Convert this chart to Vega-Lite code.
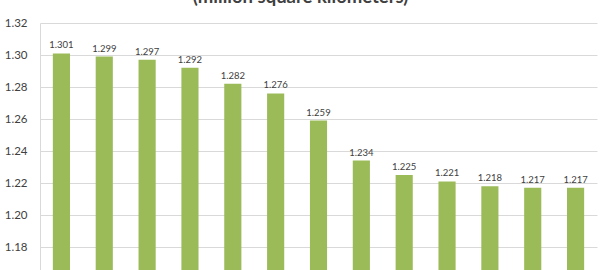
{
  "$schema": "https://vega.github.io/schema/vega-lite/v6.json",
  "autosize": {"type": "none"},
  "padding": {"left": 40, "top": 23, "right": 7, "bottom": 0},
  "width": 557,
  "height": 247,
  "background": "white",
  "title": {
    "text": "(million square kilometers)",
    "font": "Lato",
    "fontSize": 18.5,
    "fontWeight": "bold",
    "color": "#404040",
    "anchor": "middle",
    "frame": "bounds",
    "baseline": "alphabetic",
    "offset": 0,
    "dy": 4
  },
  "data": {
    "values": [
      {"rank": 1, "value": 1.301},
      {"rank": 2, "value": 1.299},
      {"rank": 3, "value": 1.297},
      {"rank": 4, "value": 1.292},
      {"rank": 5, "value": 1.282},
      {"rank": 6, "value": 1.276},
      {"rank": 7, "value": 1.259},
      {"rank": 8, "value": 1.234},
      {"rank": 9, "value": 1.225},
      {"rank": 10, "value": 1.221},
      {"rank": 11, "value": 1.218},
      {"rank": 12, "value": 1.217},
      {"rank": 13, "value": 1.217}
    ]
  },
  "encoding": {
    "x": {
      "field": "rank",
      "type": "ordinal",
      "sort": null,
      "scale": {"paddingInner": 0.6, "paddingOuter": 0.3},
      "axis": null
    },
    "y": {
      "field": "value",
      "type": "quantitative",
      "scale": {"domain": [1.165625, 1.32], "nice": false, "zero": false},
      "axis": {
        "title": null,
        "values": [1.18, 1.2, 1.22, 1.24, 1.26, 1.28, 1.3, 1.32],
        "format": ".2f",
        "ticks": false,
        "labelPadding": 13,
        "labelFont": "Lato",
        "labelFontSize": 11.5,
        "labelColor": "#404040",
        "domain": true,
        "domainColor": "#d9d9d9",
        "gridColor": "#d9d9d9",
        "gridWidth": 1
      }
    }
  },
  "layer": [
    {"mark": {"type": "bar", "color": "#9bbb59", "clip": true}},
    {
      "mark": {"type": "text", "dy": -3, "font": "Lato", "fontSize": 9.5, "color": "#404040", "baseline": "bottom"},
      "encoding": {"text": {"field": "value", "type": "quantitative", "format": ".3f"}}
    }
  ],
  "config": {"view": {"stroke": null}}
}
